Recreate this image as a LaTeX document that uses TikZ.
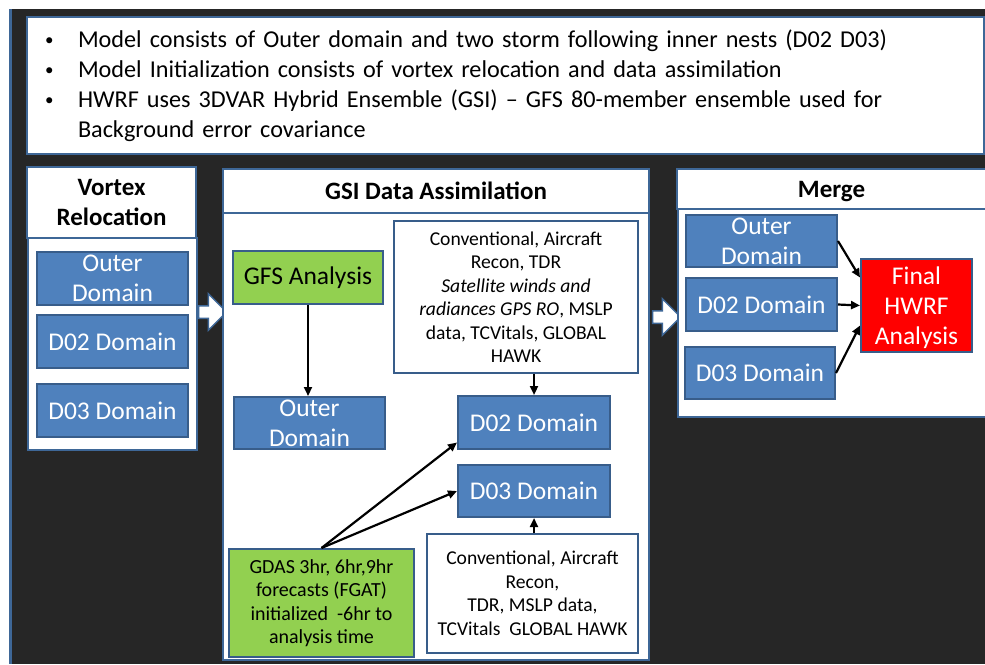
\documentclass[tikz,border=0pt]{standalone}
\usepackage{fontspec}
\setmainfont{Carlito}
\usetikzlibrary{arrows.meta,shapes.arrows}
\newcommand{\notebullet}{\makebox[33pt][l]{\raisebox{1.5pt}{\fontsize{17}{17}\selectfont\textbullet}}}

\begin{document}
\begin{tikzpicture}[x=1pt,y=-1pt,
  panel/.style={draw=frame,line width=2.5pt,fill=white},
  header/.style={panel,font=\bfseries\fontsize{25}{30}\selectfont,align=center,inner sep=0pt},
  domainbox/.style={draw=domainline,line width=2pt,fill=domainfill,text=white,align=center,
    font=\fontsize{25.5}{30}\selectfont,minimum width=151pt,minimum height=53pt,inner sep=0pt},
  sourcebox/.style={draw=domainline,line width=2pt,align=center,inner sep=0pt,
    font=\fontsize{19.6}{23.5}\selectfont},
  blockarrow/.style={single arrow,draw=frame,fill=white,line width=1.5pt,inner xsep=0pt,
    inner ysep=5.5pt,single arrow head extend=12pt,minimum height=28pt},
  link/.style={line width=2.2pt,-{Triangle[length=9pt,width=8pt]}}]
\definecolor{darkbg}{HTML}{262626}
\definecolor{frame}{HTML}{3E6797}
\definecolor{domainfill}{HTML}{4F81BD}
\definecolor{domainline}{HTML}{385D8A}
\definecolor{grass}{HTML}{92D050}
\useasboundingbox (0,0) rectangle (985,664);
\fill[darkbg] (10,9) rectangle (985,664);
\draw[frame,line width=3pt] (10.5,9) -- (10.5,664);

% notes on the model
\node[panel,minimum width=957pt,minimum height=137pt,text width=921pt,inner xsep=18pt,
  align=left,font=\fontsize{24.2}{30}\selectfont] (notes) at (505.5,85.5)
  {\notebullet Model consists of Outer domain and two storm following inner nests (D02 D03)\\
   \notebullet Model Initialization consists of vortex relocation and data assimilation\\
   \notebullet HWRF uses 3DVAR Hybrid Ensemble (GSI) -- GFS 80-member ensemble used for\\
   \hspace*{33pt}Background error covariance};

% vortex relocation
\node[header,minimum width=169pt,minimum height=71pt] (vhead) at (111.5,202.5) {Vortex\\Relocation};
\node[panel,minimum width=169pt,minimum height=212pt] (vbody) at (112.5,344) {};
\foreach \name/\lbl/\ypos in {vouter/{Outer\\Domain}/278.5,vd02/{D02 Domain}/341.5,vd03/{D03 Domain}/410.5}
  {\node[domainbox] (\name) at (112.5,\ypos) {\lbl};}
\node[blockarrow] (toGSI) at (209.5,312) {};

% GSI data assimilation
\node[header,minimum width=426pt,minimum height=44pt] (ghead) at (436,191) {GSI Data Assimilation};
\node[panel,minimum width=426pt,minimum height=447pt] (gbody) at (436,436.5) {};
\node[domainbox,fill=grass,text=black,minimum width=150pt] (gfs) at (308,277.5) {GFS Analysis};
\node[sourcebox,minimum width=244pt,minimum height=152pt] (obsA) at (516,297)
  {Conventional, Aircraft\\Recon, TDR\\\textit{Satellite winds and}\\\textit{radiances GPS RO}, MSLP\\data, TCVitals, GLOBAL\\HAWK};
\node[domainbox,minimum height=52pt] (gouter) at (309.5,423) {Outer\\Domain};
\node[domainbox,minimum width=152pt] (gd02) at (534,422.5) {D02 Domain};
\node[domainbox,minimum width=152pt,minimum height=52pt] (gd03) at (534,491) {D03 Domain};
\node[sourcebox,fill=grass,minimum width=185pt,minimum height=108pt,font=\fontsize{20}{23.5}\selectfont] (gdas) at (321.5,603)
  {GDAS 3hr, 6hr,9hr\\forecasts (FGAT)\\initialized~~-6hr to\\analysis time};
\node[sourcebox,minimum width=211pt,minimum height=119pt] (obsB) at (532.5,593.5)
  {Conventional, Aircraft\\Recon,\\TDR, MSLP data,\\TCVitals~~GLOBAL HAWK};
\draw[link] (gfs.south) -- (gfs.south |- gouter.north);
\draw[link] (gd02.north |- obsA.south) -- (gd02.north);
\draw[link] (gd03.south |- obsB.north) -- (gd03.south);
\draw[link] (gdas.north) -- ([yshift=-20pt]gd02.west);
\draw[link] (gdas.north) -- (gd03.west);
\node[blockarrow] (toMerge) at (663.5,317) {};

% merge
\node[header,minimum width=309pt,minimum height=40pt,text depth=0pt] (mhead) at (831.5,189) {Merge};
\node[panel,minimum width=308pt,minimum height=208pt] (mbody) at (832,313) {};
\node[domainbox,minimum height=52pt] (mouter) at (761.5,241) {Outer\\Domain};
\node[domainbox] (md02) at (761.5,304.5) {D02 Domain};
\node[domainbox,minimum width=150pt,minimum height=52pt] (md03) at (760,373) {D03 Domain};
\node[domainbox,fill=red,minimum width=111pt,minimum height=93pt,text depth=0pt] (final) at (916.5,305.5) {Final\\HWRF\\Analysis};
\draw[link] (mouter.east) -- ([yshift=28pt]final.west);
\draw[link] (md02.east) -- (final.west);
\draw[link] (md03.east) -- ([yshift=-20pt]final.west);
\end{tikzpicture}
\end{document}
